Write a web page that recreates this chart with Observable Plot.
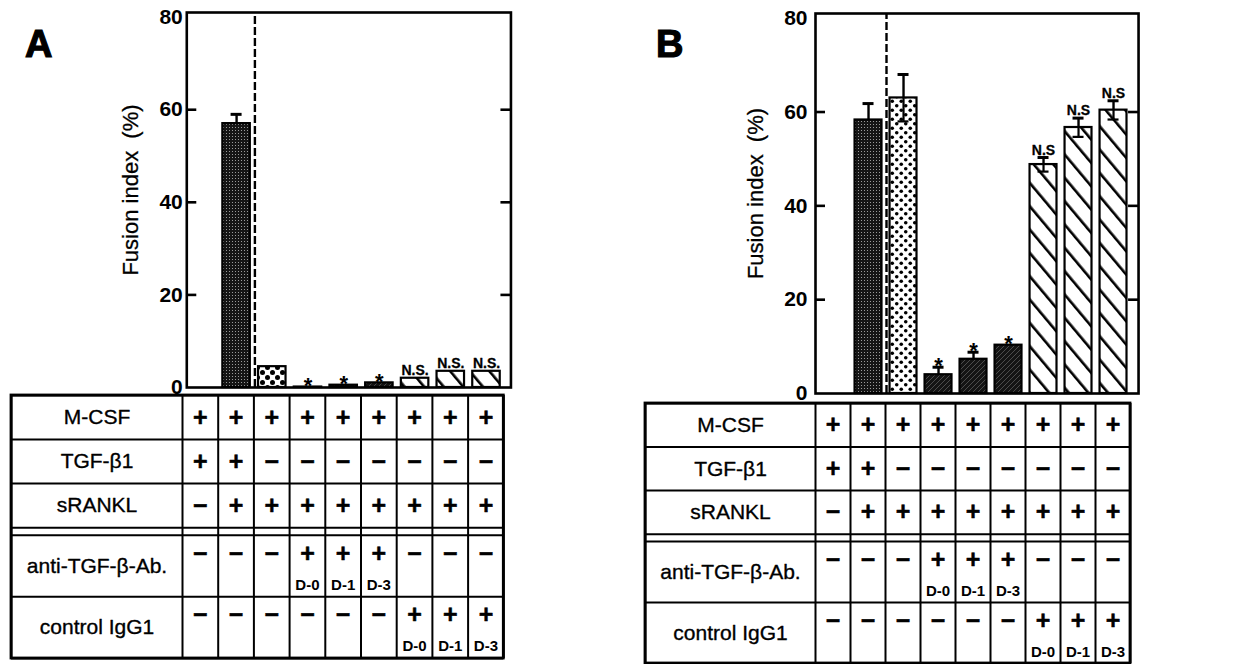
<!DOCTYPE html>
<html>
<head>
<meta charset="utf-8">
<script src="https://cdn.jsdelivr.net/npm/d3@7"></script>
<script src="https://cdn.jsdelivr.net/npm/@observablehq/plot@0.6"></script>
<style>
  html, body { margin: 0; padding: 0; background: #fff; }
  body { width: 1243px; height: 664px; position: relative; overflow: hidden;
         font-family: "Liberation Sans", Arial, Helvetica, sans-serif; color: #000; }
  .panel { position: absolute; top: 0; height: 664px; }
  .layer { position: absolute; left: 0; }
  .letter { position: absolute; font-size: 38px; font-weight: bold; line-height: 38px;
            -webkit-text-stroke: 1.2px #000; }
</style>
</head>
<body>
<div id="panelA" class="panel" style="left:0;width:620px"></div>
<div id="panelB" class="panel" style="left:620px;width:623px"></div>
<script>
// ---- Treatment table -------------------------------------------------------
const factorNames = ["M-CSF", "TGF-β1", "sRANKL", "anti-TGF-β-Ab.", "control IgG1"];
const factorSigns = [
  ["+", "+", "+", "+", "+", "+", "+", "+", "+"],
  ["+", "+", "−", "−", "−", "−", "−", "−", "−"],
  ["−", "+", "+", "+", "+", "+", "+", "+", "+"],
  ["−", "−", "−", "+", "+", "+", "−", "−", "−"],
  ["−", "−", "−", "−", "−", "−", "+", "+", "+"]
];
const antibodyDays = ["", "", "", "D-0", "D-1", "D-3", "", "", ""];
const igg1Days = ["", "", "", "", "", "", "D-0", "D-1", "D-3"];
const factorDays = [null, null, null, antibodyDays, igg1Days];

// ---- Fusion index (%) per treatment column ----------------------------------
const yTicks = [0, 20, 40, 60, 80];
const barStyles = ["stipple", "stipple", "dots", "dark", "dark", "dark", "hatch", "hatch", "hatch"];

const fusionA = [0, 57, 4.5, 0.1, 0.5, 1.0, 2.0, 3.5, 3.5];
const errorA  = [0, 2, 0, 0, 0, 0, 0, 0, 0];
const signifA = ["", "", "", "*", "*", "*", "N.S.", "N.S.", "N.S."];

const fusionB = [0, 58.3, 63, 4, 7.3, 10.3, 48.8, 56.7, 60.4];
const errorB  = [0, 3.5, 5, 1.6, 1.5, 0, 1.5, 2, 2];
const signifB = ["", "", "", "*", "*", "*", "N.S", "N.S", "N.S"];

const FONT = '"Liberation Sans", Arial, Helvetica, sans-serif';
const yLabel = "Fusion index\u00a0 (%)";
const lightStyles = new Set(["dots", "hatch"]);
const ink = {fill: "#000", stroke: "#000"};

function addPatterns(svg, id, dot) {
  const defs = d3.select(svg).insert("defs", ":first-child");
  // near-black with a fine light stipple
  let p = defs.append("pattern").attr("id", `${id}-stipple`)
    .attr("patternUnits", "userSpaceOnUse").attr("width", 3).attr("height", 3);
  p.append("rect").attr("width", 3).attr("height", 3).attr("fill", "#151515");
  p.append("rect").attr("x", 1).attr("y", 1).attr("width", 1).attr("height", 1).attr("fill", "#9a9a9a");
  // black dots on white
  p = defs.append("pattern").attr("id", `${id}-dots`)
    .attr("patternUnits", "userSpaceOnUse").attr("width", dot.s).attr("height", dot.s);
  p.append("rect").attr("width", dot.s).attr("height", dot.s).attr("fill", "#fff");
  p.append("circle").attr("cx", dot.s / 4).attr("cy", dot.s / 4).attr("r", dot.r).attr("fill", "#000");
  p.append("circle").attr("cx", 3 * dot.s / 4).attr("cy", 3 * dot.s / 4).attr("r", dot.r).attr("fill", "#000");
  // dark fill with faint diagonal hatching
  p = defs.append("pattern").attr("id", `${id}-dark`)
    .attr("patternUnits", "userSpaceOnUse").attr("width", 5).attr("height", 5);
  p.append("rect").attr("width", 5).attr("height", 5).attr("fill", "#141414");
  p.append("path").attr("d", "M0,5L5,0").attr("stroke", "#5a5a5a").attr("stroke-width", 0.8);
  // white with bold backslash hatching
  p = defs.append("pattern").attr("id", `${id}-hatch`)
    .attr("patternUnits", "userSpaceOnUse").attr("width", 15).attr("height", 15)
    .attr("patternTransform", "rotate(-40)");
  p.append("rect").attr("width", 15).attr("height", 15).attr("fill", "#fff");
  p.append("rect").attr("width", 2.6).attr("height", 15).attr("fill", "#000");
}

function drawPanel(container, cfg) {
  const L = cfg.layout;
  const bars = cfg.values.map((value, col) => ({
    col, value, err: cfg.errors[col], mark: cfg.marks[col], style: barStyles[col]
  }));
  const shown = bars.filter(d => d.value > 0);
  const withErr = bars.filter(d => d.err > 0);
  const lowerErr = withErr.filter(d => lightStyles.has(d.style));
  const top = d => d.value + d.err;
  const mid = d => d.col + 0.515;
  const capHalf = 5.5 / L.colWidth;
  const tickLen = 10 / L.colWidth;

  const chart = Plot.plot({
    width: L.W, height: L.chartH,
    marginLeft: L.colLeft + L.frameLo * L.colWidth,
    marginRight: L.W - (L.colLeft + L.frameHi * L.colWidth),
    marginTop: L.mt, marginBottom: L.mb,
    x: {domain: [L.frameLo, L.frameHi], axis: null},
    y: {domain: [0, 81], label: null},
    style: {background: "transparent", fontFamily: FONT, overflow: "visible"},
    marks: [
      Plot.rectY(shown, {
        x1: d => d.col + 0.13, x2: d => d.col + 0.9, y1: 0, y2: "value",
        fill: d => `url(#${cfg.id}-${d.style})`, stroke: "#000", strokeWidth: 2.2
      }),
      Plot.ruleX([2], {y1: 0, y2: 81, dx: 1, stroke: "#000", strokeWidth: 2.4, strokeDasharray: "8,3"}),
      Plot.ruleX(withErr, {x: mid, y1: "value", y2: top, strokeWidth: 2.4}),
      Plot.ruleY(withErr, {y: top, x1: d => mid(d) - capHalf, x2: d => mid(d) + capHalf, strokeWidth: 3}),
      Plot.ruleX(lowerErr, {x: mid, y1: d => d.value - d.err, y2: "value", strokeWidth: 2.2}),
      Plot.ruleY(lowerErr, {y: d => d.value - d.err, x1: d => mid(d) - capHalf, x2: d => mid(d) + capHalf, strokeWidth: 2.2}),
      Plot.text(bars.filter(d => d.mark === "*"), {
        x: mid, y: top, text: "mark", lineAnchor: "bottom", dy: 6,
        fontSize: 22, fontWeight: "bold", fill: "#000"
      }),
      Plot.text(bars.filter(d => d.mark.startsWith("N")), {
        x: mid, y: top, text: "mark", lineAnchor: "bottom", dy: -3,
        fontSize: 14, fontWeight: "bold", ...ink, strokeWidth: 0.3
      }),
      Plot.ruleY(yTicks.slice(1, -1), {x1: L.frameLo, x2: L.frameLo + tickLen, strokeWidth: 2.6}),
      Plot.ruleY(yTicks.slice(1, -1), {x1: L.frameHi - tickLen, x2: L.frameHi, strokeWidth: 2.6}),
      Plot.axisY(yTicks, {tickSize: 0, tickPadding: L.tickPad, fontSize: 21, fontWeight: "bold",
                          ...ink, strokeWidth: 0.4, label: null}),
      Plot.frame({stroke: "#000", strokeWidth: 2.6}),
      Plot.text([yLabel], {frameAnchor: "left", textAnchor: "middle", rotate: -90,
                           dx: L.labelDx, dy: -10, fontSize: 22, ...ink, strokeWidth: 0.3})
    ]
  });
  addPatterns(chart, cfg.id, cfg.dot);
  chart.classList.add("layer");
  chart.style.top = "0px";
  container.appendChild(chart);

  // treatment grid below the bars
  const tallRow = 1.4, gap = 0.17;
  let acc = 0;
  const rows = factorNames.map((name, r) => {
    if (r === 3) acc += gap; // double rule between cytokines and antibodies
    const y1 = acc;
    acc += factorDays[r] ? tallRow : 1;
    return {name, r, y1, y2: acc};
  });
  const total = acc;
  const hLines = [0, ...rows.map(d => d.y2), rows[3].y1];
  const xmin = -(L.colLeft - L.tableLeft) / L.colWidth;
  const cells = [], days = [];
  rows.forEach(row => {
    factorSigns[row.r].forEach((sign, col) => {
      const tall = !!factorDays[row.r];
      cells.push({col, sign, y: tall ? row.y1 + 0.42 : (row.y1 + row.y2) / 2});
      if (tall && factorDays[row.r][col]) days.push({col, day: factorDays[row.r][col], y: row.y2 - 0.27});
    });
  });

  const table = Plot.plot({
    width: L.W, height: L.tableH,
    marginLeft: L.tableLeft,
    marginRight: L.W - (L.colLeft + 9 * L.colWidth),
    marginTop: L.rowTop - L.tableTop,
    marginBottom: L.tableTop + L.tableH - L.rowBottom,
    x: {domain: [xmin, 9], axis: null},
    y: {domain: [0, total], reverse: true, axis: null},
    style: {background: "transparent", fontFamily: FONT, overflow: "visible"},
    marks: [
      Plot.ruleY(hLines, {x1: xmin, x2: 9, strokeWidth: 2}),
      Plot.ruleX([xmin, ...d3.range(10)], {y1: 0, y2: total, strokeWidth: 2}),
      Plot.rect([0], {x1: xmin, x2: 9, y1: 0, y2: total, fill: "none", stroke: "#000", strokeWidth: 2.8}),
      Plot.text(rows, {x: xmin / 2, y: d => (d.y1 + d.y2) / 2, text: "name", fontSize: 21,
                       ...ink, strokeWidth: 0.35}),
      Plot.text(cells, {x: d => d.col + 0.5, y: "y", text: "sign", fontSize: 25, fontWeight: "bold",
                        ...ink, strokeWidth: 0.5}),
      Plot.text(days, {x: d => d.col + 0.5, y: "y", text: "day", fontSize: 15, fontWeight: "bold",
                       fill: "#000", letterSpacing: -0.5})
    ]
  });
  table.classList.add("layer");
  table.style.top = L.tableTop + "px";
  container.appendChild(table);

  const letter = document.createElement("div");
  letter.className = "letter";
  letter.textContent = cfg.letter;
  letter.style.left = L.letterX + "px";
  letter.style.top = L.letterY + "px";
  container.appendChild(letter);
}

drawPanel(document.getElementById("panelA"), {
  id: "pa", letter: "A", values: fusionA, errors: errorA, marks: signifA,
  dot: {s: 10, r: 2.5},
  layout: {W: 620, colLeft: 182, colWidth: 35.7, frameLo: 0.12, frameHi: 9.2,
           chartH: 395, mt: 12, mb: 8, tickPad: 4, labelDx: -56,
           tableLeft: 11, tableTop: 388, tableH: 276, rowTop: 395, rowBottom: 658,
           letterX: 25, letterY: 25}
});
drawPanel(document.getElementById("panelB"), {
  id: "pb", letter: "B", values: fusionB, errors: errorB, marks: signifB,
  dot: {s: 9, r: 1.8},
  layout: {W: 623, colLeft: 195, colWidth: 35, frameLo: 0, frameHi: 9.23,
           chartH: 400, mt: 13, mb: 7, tickPad: 8, labelDx: -60,
           tableLeft: 25, tableTop: 396, tableH: 268, rowTop: 403, rowBottom: 663,
           letterX: 36, letterY: 25}
});
</script>
</body>
</html>
